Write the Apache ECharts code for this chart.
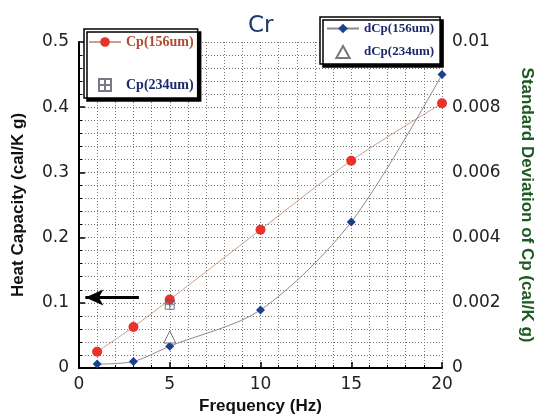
<!DOCTYPE html>
<html>
<head>
<meta charset="utf-8">
<script src="https://cdn.jsdelivr.net/npm/echarts@6/dist/echarts.min.js"></script>
<style>
html, body { margin: 0; padding: 0; background: #fff; }
#main { width: 536px; height: 417px; }
</style>
</head>
<body>
<div id="main"></div>
<script>
// data
var freq = [1, 3, 5, 10, 15, 20];
var cp156 = [0.025, 0.063, 0.105, 0.212, 0.318, 0.406];
var dcp156 = [0.00012, 0.0002, 0.00067, 0.00178, 0.00448, 0.009];
var cp234 = [[5, 0.097]];
var dcp234 = [[5, 0.00095]];

var myChart = echarts.init(document.getElementById('main'));

function pairs(xs, ys) {
	return xs.map(function (x, i) { return [x, ys[i]]; });
}

var tickFont = { fontFamily: 'DejaVu Sans', fontSize: 17, color: '#222' };
var gridLine = { show: true, lineStyle: { color: '#777', width: 1, type: [1, 2] } };
var boxPath = 'path://M0,0H10V10H0Z M5,0V10 M0,5H10';
var triPath = 'path://M5,0L10,9L0,9Z';

option = {
	backgroundColor: '#fff',
	animation: false,
	title: {
		text: 'Cr',
		left: 243,
		top: 10,
		textStyle: { fontFamily: 'DejaVu Sans', fontSize: 23, fontWeight: 'normal', color: '#1c3a6e' }
	},
	grid: { left: 79, right: 94, top: 42, bottom: 49, outerBoundsMode: 'none' },
	legend: [{
		left: 84, top: 29,
		orient: 'vertical',
		padding: [6, 4, 6, 4],
		itemGap: 29,
		itemWidth: 32, itemHeight: 12,
		backgroundColor: '#fff',
		borderColor: '#000', borderWidth: 1.5,
		shadowColor: '#000', shadowBlur: 0, shadowOffsetX: 3, shadowOffsetY: 3,
		textStyle: { fontFamily: 'Liberation Serif', fontWeight: 'bold', fontSize: 14 },
		data: [
			{ name: 'Cp(156um)', textStyle: { color: '#b04a30' } },
			{ name: 'Cp(234um)', textStyle: { color: '#1b2a6b' } }
		]
	}, {
		left: 320, top: 17,
		orient: 'vertical',
		padding: [5, 6, 5, 6],
		itemGap: 10,
		itemWidth: 32, itemHeight: 12,
		backgroundColor: '#fff',
		borderColor: '#000', borderWidth: 1.5,
		shadowColor: '#000', shadowBlur: 0, shadowOffsetX: 3, shadowOffsetY: 3,
		textStyle: { fontFamily: 'Liberation Serif', fontWeight: 'bold', fontSize: 13 },
		data: [
			{ name: 'dCp(156um)', textStyle: { color: '#1b2a6b' } },
			{ name: 'dCp(234um)', textStyle: { color: '#1b2a6b' } }
		]
	}],
	xAxis: {
		type: 'value',
		min: 0, max: 20, interval: 5,
		name: 'Frequency (Hz)',
		nameLocation: 'middle',
		nameGap: 30,
		nameTextStyle: { fontFamily: 'Liberation Sans', fontWeight: 'bold', fontSize: 17, color: '#111' },
		axisLine: { lineStyle: { color: '#000', width: 2 } },
		axisTick: { inside: true, length: 6, lineStyle: { color: '#000', width: 1.5 } },
		minorTick: { show: true, splitNumber: 5, length: 3, lineStyle: { color: '#000' } },
		axisLabel: tickFont,
		splitLine: gridLine,
		minorSplitLine: gridLine
	},
	yAxis: [{
		type: 'value',
		min: 0, max: 0.5, interval: 0.1,
		name: 'Heat Capacity (cal/K g)',
		nameLocation: 'middle',
		nameGap: 52,
		nameTextStyle: { fontFamily: 'Liberation Sans', fontWeight: 'bold', fontSize: 17, color: '#111' },
		axisLine: { show: true, lineStyle: { color: '#000', width: 2 } },
		axisTick: { inside: true, length: 6, lineStyle: { color: '#000', width: 1.5 } },
		minorTick: { show: true, splitNumber: 5, length: 3, lineStyle: { color: '#000' } },
		axisLabel: Object.assign({ margin: 10, formatter: function (v) { return String(+v.toFixed(2)); } }, tickFont),
		splitLine: gridLine,
		minorSplitLine: gridLine
	}, {
		type: 'value',
		min: 0, max: 0.01, interval: 0.002,
		position: 'right',
		name: 'Standard Deviation of Cp (cal/K g)',
		nameLocation: 'middle',
		nameGap: 76,
		nameRotate: -90,
		nameTextStyle: { fontFamily: 'Liberation Sans', fontWeight: 'bold', fontSize: 17, color: '#1d5a22' },
		axisLine: { show: false },
		axisTick: { show: false },
		axisLabel: Object.assign({ margin: 10, formatter: function (v) { return String(+v.toFixed(3)); } }, tickFont),
		splitLine: { show: false }
	}],
	series: [{
		name: 'Cp(156um)',
		type: 'line',
		smooth: 0.3,
		yAxisIndex: 0,
		data: pairs(freq, cp156),
		symbol: 'circle',
		symbolSize: 10,
		itemStyle: { color: '#e8322a' },
		lineStyle: { color: '#c9a08a', width: 1 },
		z: 5,
		markLine: {
			silent: true,
			symbol: ['none', 'arrow'],
			symbolSize: [12, 18],
			label: { show: false },
			lineStyle: { color: '#000', width: 3, type: 'solid' },
			data: [[{ coord: [3.3, 0.108] }, { coord: [0.35, 0.108] }]]
		}
	}, {
		name: 'Cp(234um)',
		type: 'scatter',
		yAxisIndex: 0,
		data: cp234,
		symbol: boxPath,
		symbolSize: 9,
		itemStyle: { color: 'rgba(0,0,0,0)', borderColor: '#556', borderWidth: 1 },
		z: 6
	}, {
		name: 'dCp(156um)',
		type: 'line',
		smooth: 0.3,
		yAxisIndex: 1,
		data: pairs(freq, dcp156),
		symbol: 'diamond',
		symbolSize: 9,
		itemStyle: { color: '#1c3f8f' },
		lineStyle: { color: '#8a8a8a', width: 1 },
		z: 5
	}, {
		name: 'dCp(234um)',
		type: 'scatter',
		yAxisIndex: 1,
		data: dcp234,
		symbol: triPath,
		symbolSize: 12,
		itemStyle: { color: '#fff', borderColor: '#555', borderWidth: 1 },
		z: 6
	}]
};

myChart.setOption(option);
</script>
</body>
</html>
